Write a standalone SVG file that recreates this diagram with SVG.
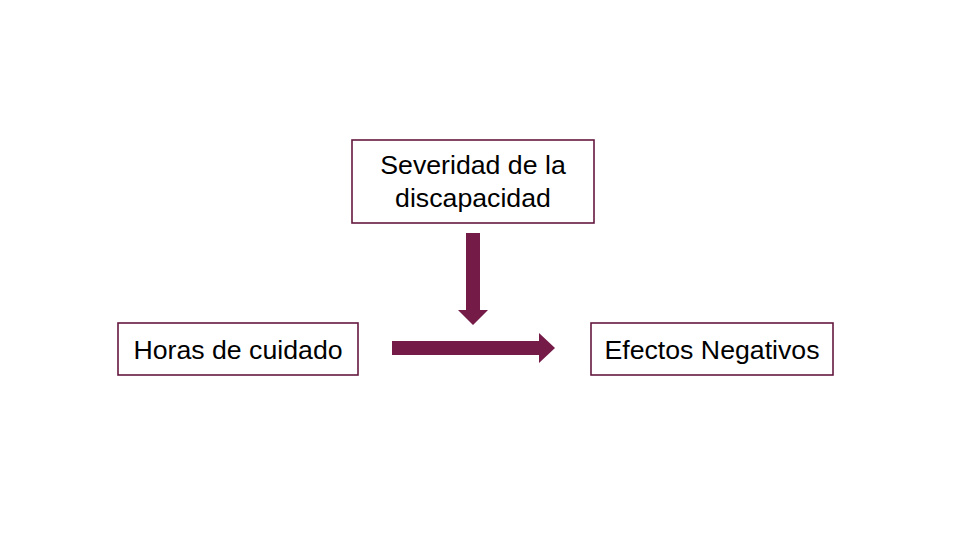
<svg xmlns="http://www.w3.org/2000/svg" width="960" height="540" viewBox="0 0 960 540">
<style>
.box{fill:#fff;stroke:#65183F;stroke-width:1.6}
.t{font-family:"Liberation Sans",Arial,sans-serif;font-size:26.7px;fill:#000;text-anchor:middle}
.arr{fill:#741B48}
</style>
<rect width="960" height="540" fill="#fff"/>
<g id="severidad">
<rect class="box" x="352" y="140" width="242" height="83"/>
<text class="t" x="473" y="174">Severidad de la</text>
<text class="t" x="473" y="207">discapacidad</text>
</g>
<g id="horas">
<rect class="box" x="118" y="323" width="240" height="52"/>
<text class="t" x="238" y="359">Horas de cuidado</text>
</g>
<g id="efectos">
<rect class="box" x="591" y="323" width="242" height="52"/>
<text class="t" x="712" y="359">Efectos Negativos</text>
</g>
<g id="connectors">
<polygon class="arr" points="466,233 480,233 480,310 488,310 473,325 458,310 466,310"/>
<polygon class="arr" points="392,341 539,341 539,333 555,348 539,363 539,355 392,355"/>
</g>
</svg>
